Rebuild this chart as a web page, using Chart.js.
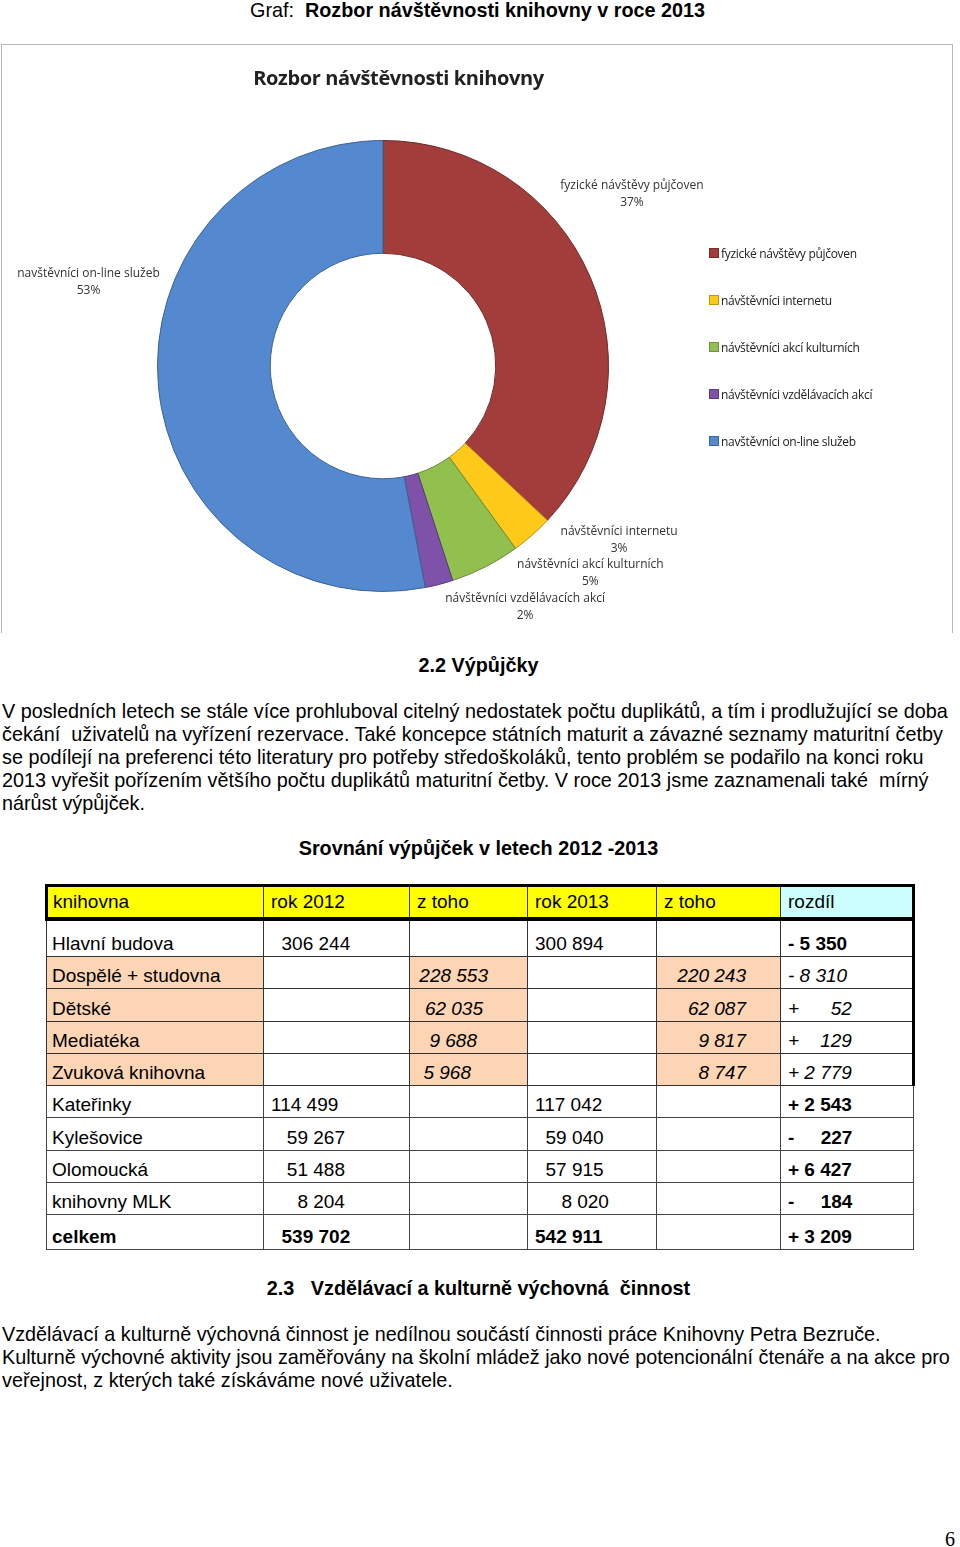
<!DOCTYPE html>
<html>
<head>
<meta charset="utf-8">
<script src="https://cdn.jsdelivr.net/npm/chart.js@4/dist/chart.umd.min.js"></script>
<style>
  body { margin: 0; background: #fff; font-family: "Liberation Sans", Arial, sans-serif; color: #000; }
  .page { position: relative; width: 960px; height: 1547px; overflow: hidden; }
  .abs { position: absolute; white-space: nowrap; }
  .hd { left: 0; width: 957px; text-align: center; font-weight: bold; font-size: 19.8px; }
  #chartBox { position: absolute; left: 1px; top: 44px; width: 950px; height: 588px; border: 1px solid #b8b8b8; border-bottom: none; }
  #chartTitle { position: absolute; left: 0; width: 793px; top: 19px; text-align: center; font-family: "Open Sans", sans-serif; font-weight: bold; font-size: 20px; color: #222; letter-spacing: -0.4px; }
  #legend { position: absolute; left: 707px; top: 200px; font-family: "Open Sans", sans-serif; font-size: 12px; color: #222; letter-spacing: -0.3px; }
  #legend div { height: 47px; line-height: 18px; }
  #legend span.sw { display: inline-block; width: 8px; height: 8px; margin-right: 2px; border: 1px solid rgba(0,0,0,0.25); }
  p.txt { margin: 0; font-size: 19.8px; line-height: 23px; }
  table.t { position: absolute; left: 45px; top: 884px; border-collapse: collapse; table-layout: fixed; width: 867px; font-size: 19px; }
  table.t td { height: 31.25px; padding: 0 7px; border: 1px solid #333; vertical-align: bottom; line-height: 24px; white-space: pre; overflow: hidden; }
  table.t td:first-child { padding-left: 5px; }
  table.t tr.head td { background: #ffff00; border-top: 3px solid #000; border-bottom: 4px solid #000; height: 30px; vertical-align: middle; }
  table.t tr.head td:first-child { border-left: 3px solid #000; }
  table.t tr.head td:last-child { background: #ccffff; border-right: 3px solid #000; }
  table.t tr.peach td.p { background: #fcd5b4; }
  table.t tr.top td:last-child { border-right: 3px solid #000; }
  table.t td.b { font-weight: bold; }
  table.t td.i { font-style: italic; }
</style>
</head>
<body>
<div class="page">
  <div class="abs" style="left:250px; top:-1px; font-size:19.8px;">Graf:&nbsp; <b>Rozbor návštěvnosti knihovny v roce 2013</b></div>

  <div id="chartBox">
    <canvas id="pieChart" width="950" height="588"></canvas>
    <div id="chartTitle">Rozbor návštěvnosti knihovny</div>
    <div id="legend"></div>
  </div>

  <div class="abs hd" style="top:654px;">2.2 Výpůjčky</div>
  <div class="abs" style="left:2px; top:700px;">
    <p class="txt">V posledních letech se stále více prohluboval citelný nedostatek počtu duplikátů, a tím i prodlužující se doba</p>
    <p class="txt">čekání&nbsp; uživatelů na vyřízení rezervace. Také koncepce státních maturit a závazné seznamy maturitní četby</p>
    <p class="txt">se podílejí na preferenci této literatury pro potřeby středoškoláků, tento problém se podařilo na konci roku</p>
    <p class="txt">2013 vyřešit pořízením většího počtu duplikátů maturitní četby. V roce 2013 jsme zaznamenali také&nbsp; mírný</p>
    <p class="txt">nárůst výpůjček.</p>
  </div>
  <div class="abs hd" style="top:837px;">Srovnání výpůjček v letech 2012 -2013</div>

  <table class="t" id="tbl"></table>

  <div class="abs hd" style="top:1277px;">2.3&nbsp;&nbsp; Vzdělávací a kulturně výchovná&nbsp; činnost</div>
  <div class="abs" style="left:2px; top:1323px;">
    <p class="txt">Vzdělávací a kulturně výchovná činnost je nedílnou součástí činnosti práce Knihovny Petra Bezruče.</p>
    <p class="txt">Kulturně výchovné aktivity jsou zaměřovány na školní mládež jako nové potencionální čtenáře a na akce pro</p>
    <p class="txt">veřejnost, z kterých také získáváme nové uživatele.</p>
  </div>
  <div class="abs" style="left:945px; top:1528px; font-family:'Liberation Serif', serif; font-size:20px;">6</div>
</div>

<script>
// donut data
const sliceLabels = ['fyzické návštěvy půjčoven', 'návštěvníci internetu', 'návštěvníci akcí kulturních', 'návštěvníci vzdělávacích akcí', 'navštěvníci on-line služeb'];
const legendLabels = ['fyzické návštěvy půjčoven', 'návštěvníci internetu', 'návštěvníci akcí kulturních', 'návštěvníci vzdělávacích akcí', 'navštěvníci on-line služeb'];
const slicePercent = [37, 3, 5, 2, 53];
const sliceColors = ['#a23d3b', '#ffc91a', '#92c04f', '#7d52a8', '#5589cf'];
const sliceBorders = ['#6e2a28', '#b8901a', '#6a8a3a', '#563a75', '#3b6396'];

// table data
const tableHead = ['knihovna', 'rok 2012', 'z toho', 'rok 2013', 'z toho', 'rozdíl'];
const rowNames = ['Hlavní budova', 'Dospělé + studovna', 'Dětské', 'Mediatéka', 'Zvuková knihovna', 'Kateřinky', 'Kylešovice', 'Olomoucká', 'knihovny MLK', 'celkem'];
const year2012 = ['  306 244', '', '', '', '', '114 499', '   59 267', '   51 488', '     8 204', '  539 702'];
const part2012 = ['', '228 553', '62 035', '9 688', '5 968', '', '', '', '', ''];
const year2013 = ['300 894', '', '', '', '', '117 042', '  59 040', '  57 915', '     8 020', '542 911'];
const part2013 = ['', '220 243', '62 087', '9 817', '8 747', '', '', '', '', ''];
const diffs = ['- 5 350', '- 8 310', '+      52', '+    129', '+ 2 779', '+ 2 543', '-     227', '+ 6 427', '-     184', '+ 3 209'];
const colWidths = [217, 146, 118, 129, 124, 133];
// right padding of the "z toho" numbers, per row
const part2012Pad = [7, 39, 44, 50, 56, 7, 7, 7, 7, 7];
const part2013Pad = [7, 34, 34, 34, 34, 7, 7, 7, 7, 7];

// build table
const tbl = document.getElementById('tbl');
let html = '<colgroup>' + colWidths.map(w => `<col style="width:${w}px">`).join('') + '</colgroup>';
html += '<tr class="head">' + tableHead.map(h => `<td>${h}</td>`).join('') + '</tr>';
rowNames.forEach((name, r) => {
  const isPart = part2012[r] !== '';
  const bold = r === 0 || r >= 5;
  const cls = [];
  if (isPart) cls.push('peach');
  if (r <= 4) cls.push('top');
  const tb = name === 'celkem' ? ' b' : '';
  html += `<tr class="${cls.join(' ')}">` +
    `<td class="p${tb}">${name}</td>` +
    `<td class="${tb}">${year2012[r]}</td>` +
    `<td class="p i" style="text-align:right; padding-right:${part2012Pad[r]}px">${part2012[r]}</td>` +
    `<td class="${tb}">${year2013[r]}</td>` +
    `<td class="p i" style="text-align:right; padding-right:${part2013Pad[r]}px">${part2013[r]}</td>` +
    `<td class="${bold ? 'b' : 'i'}">${diffs[r]}</td></tr>`;
});
tbl.innerHTML = html;
tbl.querySelectorAll('tr').forEach((tr, i) => {
  if (i === 1) tr.querySelectorAll('td').forEach(td => td.style.height = '35px');
  if (i >= 6) tr.querySelectorAll('td').forEach(td => { td.style.borderColor = '#444'; });
  if (i === 10) tr.querySelectorAll('td').forEach(td => td.style.height = '34px');
});

// legend
document.getElementById('legend').innerHTML = legendLabels.map((l, i) =>
  `<div><span class="sw" style="background:${sliceColors[i]}"></span>${l}</div>`).join('');

// label offsets relative to slice outer midpoint
const labelOffsets = [[42, -83], [87, 4], [105, 6], [86, 22], [-70, -106]];

const outsideLabels = {
  id: 'outsideLabels',
  afterDatasetsDraw(chart) {
    const ctx = chart.ctx;
    const meta = chart.getDatasetMeta(0);
    ctx.save();
    ctx.font = '12px "Open Sans", sans-serif';
    ctx.fillStyle = '#333';
    ctx.textAlign = 'center';
    ctx.textBaseline = 'middle';
    meta.data.forEach((arc, i) => {
      const p = arc.getProps(['x', 'y', 'startAngle', 'endAngle', 'outerRadius']);
      const mid = (p.startAngle + p.endAngle) / 2;
      const x = p.x + Math.cos(mid) * p.outerRadius + labelOffsets[i][0];
      const y = p.y + Math.sin(mid) * p.outerRadius + labelOffsets[i][1];
      ctx.fillText(sliceLabels[i], x, y - 8);
      ctx.fillText(slicePercent[i] + '%', x, y + 9);
    });
    ctx.restore();
  }
};

new Chart(document.getElementById('pieChart'), {
  type: 'doughnut',
  data: {
    labels: sliceLabels,
    datasets: [{
      data: slicePercent,
      backgroundColor: sliceColors,
      borderColor: sliceBorders,
      borderWidth: 1
    }]
  },
  options: {
    responsive: false,
    animation: false,
    cutout: '50%',
    layout: { padding: { left: 155, right: 343, top: 95, bottom: 41 } },
    plugins: { legend: { display: false }, title: { display: false }, tooltip: { enabled: false } }
  },
  plugins: [outsideLabels]
});
</script>
</body>
</html>
